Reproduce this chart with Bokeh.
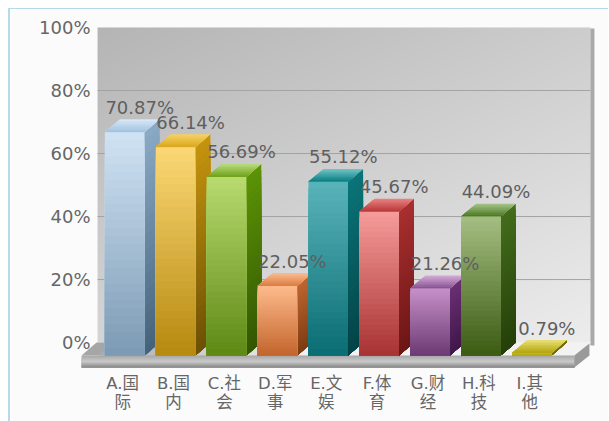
from bokeh.plotting import figure
from bokeh.models import Range1d, FixedTicker
from bokeh.core.properties import value
from bokeh.embed import file_html
from bokeh.resources import INLINE
import numpy as np

categories = ["A.国\n际", "B.国\n内", "C.社\n会", "D.军\n事", "E.文\n娱", "F.体\n育", "G.财\n经", "H.科\n技", "I.其\n他"]
values = [70.87, 66.14, 56.69, 22.05, 55.12, 45.67, 21.26, 44.09, 0.79]
y_ticks = [0, 20, 40, 60, 80, 100]
y_labels = ["0%", "20%", "40%", "60%", "80%", "100%"]

# (front top, front bottom, side top, side bottom, cap back, cap front)
bar_colors = [
    ("#cfe2f3", "#7d9bb5", "#8aa9c4", "#46637c", "#d5e6f5", "#a3c4e0"),
    ("#fad774", "#b78a10", "#c4930e", "#6e5105", "#f4d060", "#dca922"),
    ("#b7d96e", "#5f8a16", "#5c9206", "#335803", "#b5d878", "#72a51e"),
    ("#fdb98a", "#c4662e", "#bd6530", "#7d3c12", "#f9b88c", "#dd7f45"),
    ("#58b3b8", "#0b6e75", "#0a7478", "#034448", "#6cc0c2", "#0c8084"),
    ("#f59a98", "#a93434", "#a82f2f", "#6d1616", "#e77e7e", "#b83a3a"),
    ("#c48fc6", "#6e3b75", "#6a2f74", "#40184a", "#d0a6d2", "#8a5596"),
    ("#a3bd80", "#3d5c14", "#436c1c", "#25400a", "#a0c082", "#4f7a26"),
    ("#c7b820", "#b5a812", "#8f8410", "#6f660c", "#e6dc70", "#b5a812"),
]

# layout, in pixels of the page
PAGE_L, PAGE_T = 10, 9     # top-left of the figure (inside its border)
F_L, F_R, F_T, F_B = 81, 608, 20, 370
PX_X = 50.7      # px per category
PX_Y = 3.16      # px per percent
ORIGIN = 122     # px of the first tick
Y0 = 343         # px of the back-wall 0%
DX = 15 / PX_X   # depth, x
DY = 13 / PX_Y   # depth, y
HALF = 19.7 / PX_X
SHIFT = 2 / PX_X


def X(px):
    return (px - ORIGIN) / PX_X


def Y(px):
    return (Y0 - px) / PX_Y


def rgb(h):
    return np.array([int(h[i:i + 2], 16) for i in (1, 3, 5)], dtype=float)


def mix(a, b, t):
    c = rgb(a) * (1 - t) + rgb(b) * t
    return "#%02x%02x%02x" % tuple(int(round(v)) for v in c)


p = figure(width=600, height=413, output_backend="svg", toolbar_location=None,
           x_range=Range1d(X(F_L), X(F_R)), y_range=Range1d(Y(F_B), Y(F_T)),
           min_border_left=F_L - PAGE_L, min_border_right=0, min_border_top=F_T - PAGE_T,
           min_border_bottom=53, outline_line_color=None,
           background_fill_color="#fbfbfb", border_fill_color="#fbfbfb")
p.margin = (8, 0, 0, 8)
p.styles = {"border-left": "2px solid #b5dbe8", "border-top": "1px solid #b5dbe8", "box-sizing": "border-box"}
p.grid.visible = False

# back wall with a diagonal grey gradient (row 0 is the bottom of the image)
h, w = 120, 180
yy, xx = np.mgrid[0:h, 0:w]
g = 181 + 24 * xx / (w - 1) + 32 * (h - 1 - yy) / (h - 1)
img = np.zeros((h, w), dtype=np.uint32)
view = img.view(dtype=np.uint8).reshape((h, w, 4))
view[..., 0] = view[..., 1] = view[..., 2] = g.astype(np.uint8)
view[..., 3] = 255
p.image_rgba(image=[img], x=X(97), y=Y(343), dw=X(588) - X(97), dh=Y(27) - Y(343))

# wall right edge
p.quad(left=X(588), right=X(592), bottom=Y(346), top=Y(28), fill_color="#a9a9a9", line_color=None)

# grid
gt = [t for t in y_ticks if t > 0 and t < 100]
p.segment(x0=[X(97)] * len(gt), x1=[X(588)] * len(gt), y0=gt, y1=gt, line_color="#a3a3a3", line_width=1)

polys_x, polys_y, polys_c = [], [], []


def add(xs, ys, c):
    polys_x.append(list(xs))
    polys_y.append(list(ys))
    polys_c.append(c)


# floor top, left to right, darker to lighter
n = 30
for k in range(n):
    t = k / (n - 1)
    a = X(81 + (572 - 81) * k / n)
    add([a, a + DX, X(588), X(572)], [-DY, 0, 0, -DY], mix("#a6a6a6", "#f2f2f2", min(1, t * 2.2)))

# floor front slab
n = 12
s_top, s_bot = Y(356), Y(368)
for k in range(n):
    t = k / (n - 1)
    c = mix("#a8a8a8", "#cbcbcb", t * 2) if t < 0.5 else mix("#cbcbcb", "#8a8a8a", t * 2 - 1)
    add([X(81), X(572), X(572), X(81)], [s_bot, s_bot, s_top - (s_top - s_bot) * k / n, s_top - (s_top - s_bot) * k / n], c)
# floor right side
add([X(572), X(587), X(587), X(572)], [s_top, Y(344), Y(356), s_bot], "#9a9a9a")

# bars
n = 28
for i, v in enumerate(values):
    ft, fb, st, sb, cb, cf = bar_colors[i]
    l, r = i + SHIFT - HALF, i + SHIFT + HALF
    base = -DY
    top = v - DY
    # side
    for k in range(n):
        yk = top + (base - top) * k / n
        add([r, r + DX, r + DX, r], [base, base + DY, yk + DY, yk], mix(st, sb, k / (n - 1)))
    # cap, back to front
    m = 8
    for k in range(m):
        d = 1 - k / m
        add([l, r, r + DX * d, l + DX * d], [top, top, top + DY * d, top + DY * d], mix(cb, cf, k / (m - 1)))
    # front
    for k in range(n):
        yk = top + (base - top) * k / n
        add([l, r, r, l], [base, base, yk, yk], mix(ft, fb, k / (n - 1)))

p.patches(xs=polys_x, ys=polys_y, fill_color=polys_c, line_color=None)

# value labels
p.text(x=[i + SHIFT + DX for i in range(len(values))], y=values,
       text=["%.2f%%" % v for v in values], text_align="center", text_baseline="middle",
       y_offset=-12, text_font=value("DejaVu Sans"), text_font_size="18px", text_color="#5f5f5f")

# axes
ya = p.yaxis[0]
ya.ticker = FixedTicker(ticks=y_ticks)
ya.major_label_overrides = dict(zip(y_ticks, y_labels))
ya.axis_line_color = None
ya.major_tick_line_color = None
ya.minor_tick_line_color = None
ya.major_label_standoff = -15
ya.major_label_text_font = "DejaVu Sans"
ya.major_label_text_font_size = "18px"
ya.major_label_text_color = "#666666"

xa = p.xaxis[0]
xa.ticker = FixedTicker(ticks=list(range(len(categories))))
xa.major_label_overrides = dict(zip(range(len(categories)), categories))
xa.axis_line_color = None
xa.major_tick_line_color = None
xa.minor_tick_line_color = None
xa.major_label_standoff = -2
xa.major_label_text_font = "DejaVu Sans, Noto Sans CJK SC"
xa.major_label_text_font_size = "16.5px"
xa.major_label_text_color = "#666666"
xa.major_label_text_line_height = 1.03

open("out.html", "w").write(file_html(p, INLINE))
